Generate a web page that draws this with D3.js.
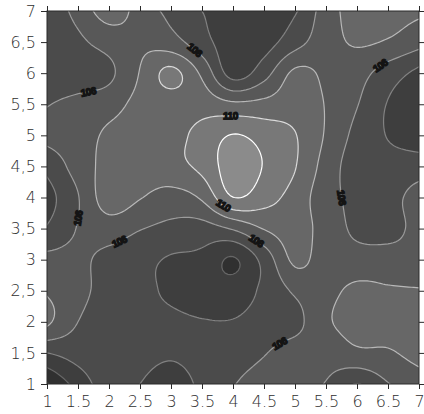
<!DOCTYPE html>
<html><head><meta charset="utf-8">
<script src="https://cdn.jsdelivr.net/npm/d3@7"></script>
<style>body{margin:0;background:#fff}</style>
</head><body>
<script>
// ---- data ----
const xValues = [1,1.5,2,2.5,3,3.5,4,4.5,5,5.5,6,6.5,7];
const yValues = [1,1.5,2,2.5,3,3.5,4,4.5,5,5.5,6,6.5,7];
const xTickLabels = ["1","1.5","2","2.5","3","3.5","4","4.5","5","5.5","6","6.5","7"];
const yTickLabels = ["1","1,5","2","2,5","3","3,5","4","4,5","5","5,5","6","6,5","7"];
// z values per row (x = 1 … 7), from y = 7 down to y = 1
const zY70 = [3.4, 4.3, 5.5, 4.6, 3.7, 3.0, 2.5, 2.5, 2.9, 4.5, 5.4, 5.4, 5.2];
const zY65 = [3.3, 3.8, 4.4, 4.8, 4.4, 3.4, 2.4, 2.6, 3.6, 4.6, 5.1, 4.9, 4.35];
const zY60 = [3.2, 3.4, 3.8, 5.05, 6.25, 4.8, 2.6, 3.6, 5.2, 4.8, 4.4, 3.5, 2.75];
const zY55 = [3.95, 4.3, 4.6, 5.3, 5.55, 5.6, 5.2, 5.3, 5.5, 4.95, 4.05, 2.95, 2.5];
const zY50 = [4.25, 4.5, 5.2, 5.5, 5.7, 6.3, 7.05, 6.6, 6.05, 4.9, 3.7, 2.95, 2.5];
const zY45 = [3.3, 4.4, 5.35, 5.5, 5.7, 6.25, 7.5, 6.95, 6.05, 4.6, 3.5, 3.4, 3.5];
const zY40 = [2.6, 3.95, 5.5, 5.05, 4.6, 5.15, 6.98, 6.4, 5.6, 4.4, 3.75, 3.7, 4.4];
const zY35 = [3.1, 4.05, 4.5, 4.05, 3.75, 3.6, 4.1, 5.05, 5.4, 4.6, 3.8, 3.7, 4.3];
const zY30 = [4.3, 4.2, 3.7, 3.3, 2.9, 2.75, 1.9, 3.35, 5.2, 4.5, 4.4, 4.4, 4.3];
const zY25 = [4.9, 4.3, 3.6, 3.3, 2.8, 2.5, 2.5, 3.2, 4.15, 4.7, 5.2, 5.1, 5.05];
const zY20 = [5.2, 4.0, 3.5, 3.4, 3.2, 3.05, 3.05, 3.4, 3.7, 4.85, 5.3, 5.3, 5.2];
const zY15 = [3.0, 3.4, 3.6, 3.3, 3.1, 3.3, 3.6, 3.95, 4.4, 4.4, 4.8, 4.9, 5.3];
const zY10 = [0.9, 2.4, 3.45, 3.0, 2.6, 3.2, 3.95, 4.3, 4.3, 3.95, 2.97, 3.95, 4.5];
const thresholds = [1,2,3,4,5,6,7];
const levelColors = ["#222222","#303030","#3e3e3e","#4b4b4b","#585858","#676767","#787878","#8b8b8b"];
const lineColors = ["#505050","#666666","#828282","#9c9c9c","#b8b8b8","#dadada","#ffffff"];
// contour labels: level, approximate position, text
const labelLevels = [4,4,6,4,4,4,6,4,4,4];
const labelX = [1.67,3.4,3.95,6.37,1.48,2.15,3.85,4.35,5.61,4.76];
const labelY = [5.6,6.37,5.3,6.1,3.67,3.3,3.87,3.3,3.97,1.6];
const labelText = ["106","106","110","106","106","106","110","106","106","106"];

// ---- chart ----
const W = 424, H = 414;
const x = d3.scaleLinear().domain([1,7]).range([47,419]);
const y = d3.scaleLinear().domain([1,7]).range([384,11]);
const svg = d3.select("body").append("svg").attr("width",W).attr("height",H);

const rows = [zY70,zY65,zY60,zY55,zY50,zY45,zY40,zY35,zY30,zY25,zY20,zY15,zY10];
const nx = xValues.length, ny = rows.length;
const F = 12;
const NX = (nx-1)*F+1, NY = (ny-1)*F+1;
function g(i,j){
  if (i < 0) return 2*g(0,j) - g(1,j);
  if (i > nx-1) return 2*g(nx-1,j) - g(nx-2,j);
  if (j < 0) return 2*g(i,0) - g(i,1);
  if (j > ny-1) return 2*g(i,ny-1) - g(i,ny-2);
  return rows[j][i];
}
function cr(p0,p1,p2,p3,t){
  return 0.5*((2*p1)+(-p0+p2)*t+(2*p0-5*p1+4*p2-p3)*t*t+(-p0+3*p1-3*p2+p3)*t*t*t);
}
const fine = new Float64Array(NX*NY);
for (let J=0; J<NY; J++){
  const fj = J/F, j = Math.min(Math.floor(fj), ny-2), tj = fj-j;
  for (let I=0; I<NX; I++){
    const fi = I/F, i = Math.min(Math.floor(fi), nx-2), ti = fi-i;
    const c = [];
    for (let m=-1; m<=2; m++) c.push(cr(g(i-1,j+m),g(i,j+m),g(i+1,j+m),g(i+2,j+m),ti));
    fine[J*NX+I] = cr(c[0],c[1],c[2],c[3],tj);
  }
}
const gx = px => x(1 + (px-0.5)/(NX-1)*6);
const gy = py => y(7 - (py-0.5)/(NY-1)*6);
const proj = d3.geoTransform({point(px,py){ this.stream.point(gx(px), gy(py)); }});
const path = d3.geoPath(proj);
const contours = d3.contours().size([NX,NY]).thresholds(thresholds)(fine);

svg.append("clipPath").attr("id","clip").append("rect")
  .attr("x",x(1)).attr("y",y(7)).attr("width",x(7)-x(1)).attr("height",y(1)-y(7));
const plot = svg.append("g").attr("clip-path","url(#clip)");
plot.append("rect").attr("x",x(1)).attr("y",y(7)).attr("width",x(7)-x(1)).attr("height",y(1)-y(7))
  .attr("fill",levelColors[0]);
plot.selectAll("path.fill").data(contours).join("path").attr("class","fill")
  .attr("d",path).attr("fill",(d,i)=>levelColors[i+1]).attr("stroke","none");
plot.selectAll("path.line").data(contours).join("path").attr("class","line")
  .attr("d",path).attr("fill","none").attr("stroke",(d,i)=>lineColors[i]).attr("stroke-width",1.2);

// contour labels along lines
const lbl = plot.append("g");
labelLevels.forEach((lev,k)=>{
  const c = contours[thresholds.indexOf(lev)];
  const tx = x(labelX[k]), ty = y(labelY[k]);
  let best = null, bd = Infinity;
  c.coordinates.forEach(poly=>poly.forEach(ring=>{
    ring.forEach((p,idx)=>{
      const X = gx(p[0]), Y = gy(p[1]);
      const d = (X-tx)*(X-tx)+(Y-ty)*(Y-ty);
      if (d < bd){ bd = d; best = {ring, idx, X, Y}; }
    });
  }));
  if (!best) return;
  const r = best.ring, n = r.length;
  const a = r[(best.idx-5+n)%n], b = r[(best.idx+5)%n];
  let ang = Math.atan2(gy(b[1])-gy(a[1]), gx(b[0])-gx(a[0]))*180/Math.PI;
  if (ang > 90) ang -= 180; if (ang < -90) ang += 180;
  lbl.append("text").attr("transform",`translate(${best.X},${best.Y}) rotate(${ang})`)
    .attr("text-anchor","middle").attr("dy","0.35em")
    .attr("font-family","Liberation Sans, Arial, sans-serif").attr("font-weight","bold")
    .attr("font-size",10).attr("fill","#141414").attr("stroke","#141414").attr("stroke-width",1.3)
    .attr("letter-spacing",-0.5)
    .text(labelText[k]);
});

// frame
svg.append("rect").attr("x",x(1)).attr("y",y(7)).attr("width",x(7)-x(1)).attr("height",y(1)-y(7))
  .attr("fill","none").attr("stroke","#2a2a2a").attr("stroke-width",1);

// axes
const fontFam = "'DejaVu Sans', 'Liberation Sans', sans-serif";
function style(g){
  g.select(".domain").remove();
  g.selectAll(".tick line").attr("stroke","#2a2a2a");
  g.selectAll(".tick text").attr("font-family",fontFam).attr("font-weight",200)
    .attr("font-size",16).attr("fill","#2e2e2e");
}
svg.append("g").attr("transform",`translate(${x(1)},0)`)
  .call(d3.axisLeft(y).tickValues(yValues).tickSize(6).tickPadding(5).tickFormat((d,i)=>yTickLabels[i]))
  .call(style);
svg.append("g").attr("transform",`translate(0,${y(1)})`)
  .call(d3.axisBottom(x).tickValues(xValues).tickSize(5).tickPadding(7).tickFormat((d,i)=>xTickLabels[i]))
  .call(style);
svg.append("g").attr("transform",`translate(0,${y(7)})`)
  .call(d3.axisTop(x).tickValues(xValues).tickSize(5).tickFormat(""))
  .call(style);
svg.append("g").attr("transform",`translate(${x(7)},0)`)
  .call(d3.axisRight(y).tickValues(yValues).tickSize(5).tickFormat(""))
  .call(style);
</script>
</body></html>
